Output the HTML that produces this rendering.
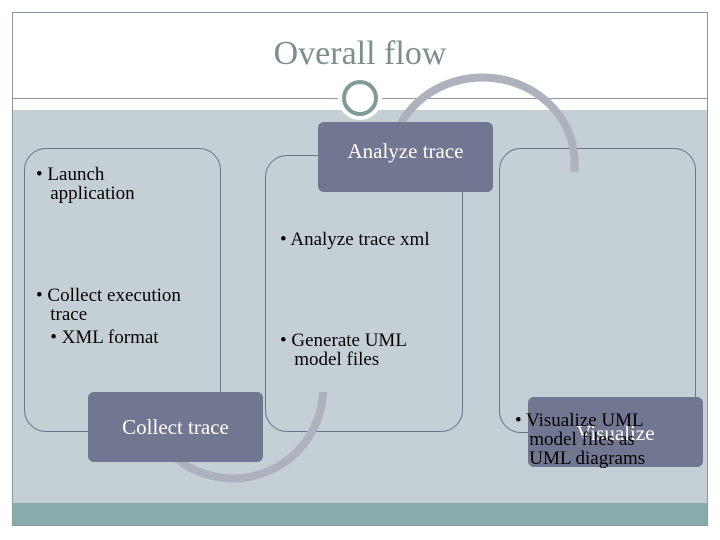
<!DOCTYPE html>
<html><head><style>
body{margin:0;width:720px;height:540px;background:#fff;position:relative;overflow:hidden;font-family:"Liberation Serif",serif}
.a{position:absolute}
.card{position:absolute;border:1px solid #6a7486;border-radius:22px;background:#c5cfd6}
.dk{position:absolute;background:#717790;border-radius:6px;color:#fff;font-size:21px;text-align:center}
.t{position:absolute;font-size:19px;line-height:19px;color:#000;white-space:nowrap}
</style></head><body>
<div class="a" style="left:12px;top:12px;width:696px;height:514px;border:1px solid #8a9a9a;box-sizing:border-box"></div>
<div class="a" style="left:13px;top:110px;width:694px;height:393px;background:#c5cfd6"></div>
<div class="a" style="left:13px;top:503px;width:694px;height:22px;background:#8aabab"></div>
<div class="a" style="left:12px;top:98px;width:696px;height:1px;background:#8a9a9a"></div>
<div class="a" style="left:0;top:35px;width:720px;text-align:center;font-size:34px;color:#7a8f8e">Overall flow</div>
<div class="card" style="left:24px;top:148px;width:195px;height:282px"></div>
<div class="card" style="left:265px;top:155px;width:196px;height:275px"></div>
<div class="card" style="left:499px;top:148px;width:195px;height:283px"></div>
<svg class="a" style="left:0;top:0" width="720" height="540">
<path d="M400 125 A92 85 0 0 1 574 172" fill="none" stroke="#aeb2bc" stroke-width="8"/>
<path d="M176 458 A90 90 0 0 0 323 392" fill="none" stroke="#aeb2bc" stroke-width="8"/>
<circle cx="360" cy="98" r="22" fill="#fff"/>
<circle cx="360" cy="98" r="16" fill="#fff" stroke="#7f9a98" stroke-width="4"/>
</svg>
<div class="dk" style="left:318px;top:122px;width:175px;height:70px;line-height:70px"><span style="position:relative;top:-6px">Analyze trace</span></div>
<div class="dk" style="left:88px;top:392px;width:175px;height:70px;line-height:70px">Collect trace</div>
<div class="dk" style="left:528px;top:397px;width:175px;height:70px;line-height:72px">Visualize</div>
<div class="t" style="left:36px;top:165px">• Launch<br>&nbsp;&nbsp;&nbsp;application</div>
<div class="t" style="left:36px;top:286px">• Collect execution<br>&nbsp;&nbsp;&nbsp;trace<br><span style="display:inline-block;margin-top:4px">&nbsp;&nbsp;&nbsp;• XML format</span></div>
<div class="t" style="left:280px;top:230px">• Analyze trace xml</div>
<div class="t" style="left:280px;top:331px">• Generate UML<br>&nbsp;&nbsp;&nbsp;model files</div>
<div class="t" style="left:515px;top:411px">• Visualize UML<br>&nbsp;&nbsp;&nbsp;model files as<br>&nbsp;&nbsp;&nbsp;UML diagrams</div>
</body></html>
